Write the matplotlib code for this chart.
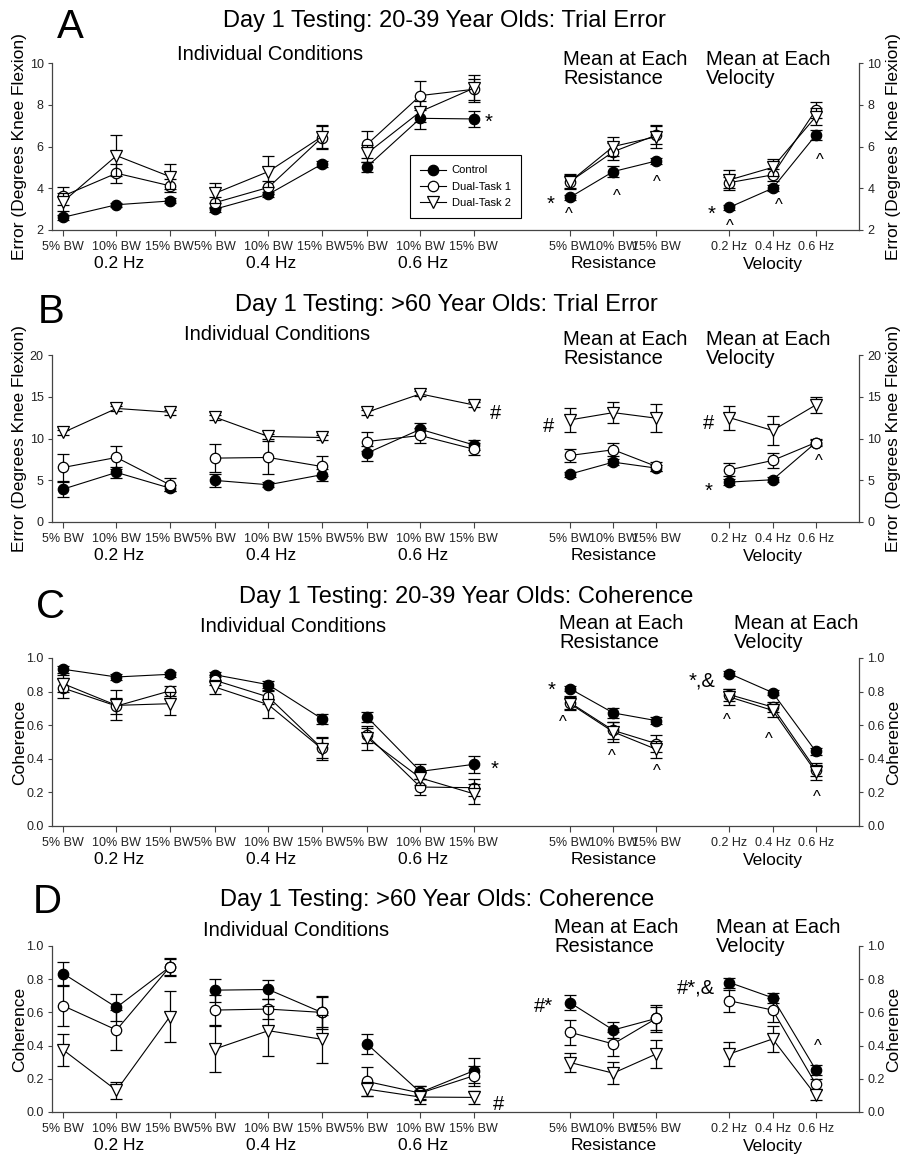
import matplotlib

matplotlib.use("Agg")
import matplotlib.pyplot as plt
from matplotlib.lines import Line2D

plt.rcParams["font.family"] = ["Liberation Sans", "DejaVu Sans"]

W, H = 903, 1157

# ---- data: 15 points per series = 0.2/0.4/0.6 Hz x (5,10,15 % BW), resistance means, velocity means
SERIES_NAMES = ["Control", "Dual-Task 1", "Dual-Task 2"]
IND_TICKS = ["5% BW", "10% BW", "15% BW"] * 3
RES_TICKS = ["5% BW", "10% BW", "15% BW"]
VEL_TICKS = ["0.2 Hz", "0.4 Hz", "0.6 Hz"]
GROUP_LABELS = ["0.2 Hz", "0.4 Hz", "0.6 Hz", "Resistance", "Velocity"]

A_CTRL = [2.61, 3.21, 3.39, 3.00, 3.71, 5.15, 5.03, 7.35, 7.32, 3.57, 4.80, 5.31, 3.09, 4.00, 6.55]
A_CTRL_ERR = [0.12, 0.10, 0.12, 0.12, 0.12, 0.15, 0.25, 0.50, 0.40, 0.12, 0.25, 0.15, 0.12, 0.15, 0.25]
A_DT1 = [3.63, 4.72, 4.12, 3.31, 4.04, 6.42, 6.10, 8.44, 8.74, 4.32, 5.75, 6.55, 4.27, 4.64, 7.75]
A_DT1_ERR = [0.45, 0.45, 0.30, 0.25, 0.30, 0.55, 0.66, 0.70, 0.50, 0.30, 0.40, 0.45, 0.25, 0.30, 0.40]
A_DT2 = [3.36, 5.56, 4.56, 3.76, 4.80, 6.47, 5.67, 7.67, 8.79, 4.32, 6.00, 6.47, 4.40, 5.00, 7.43]
A_DT2_ERR = [0.43, 0.98, 0.60, 0.48, 0.76, 0.55, 0.40, 0.50, 0.65, 0.35, 0.47, 0.55, 0.48, 0.40, 0.40]

B_CTRL = [3.94, 5.94, 4.06, 4.98, 4.46, 5.66, 8.25, 11.10, 9.24, 5.74, 7.17, 6.45, 4.78, 5.06, 9.50]
B_CTRL_ERR = [0.90, 0.65, 0.40, 0.80, 0.30, 0.70, 0.90, 0.70, 0.60, 0.30, 0.40, 0.40, 0.40, 0.30, 0.30]
B_DT1 = [6.53, 7.73, 4.46, 7.65, 7.73, 6.65, 9.64, 10.36, 8.73, 7.97, 8.65, 6.65, 6.25, 7.37, 9.52]
B_DT1_ERR = [1.60, 1.40, 0.80, 1.67, 2.00, 1.20, 1.10, 0.90, 0.76, 0.80, 0.80, 0.50, 0.80, 0.90, 0.40]
B_DT2 = [10.72, 13.60, 13.15, 12.55, 10.24, 10.12, 13.15, 15.34, 14.02, 12.23, 13.10, 12.43, 12.50, 10.96, 14.02]
B_DT2_ERR = [0.30, 0.30, 0.30, 0.30, 0.30, 0.30, 0.30, 0.30, 0.30, 1.40, 1.25, 1.70, 1.45, 1.70, 0.95]

C_CTRL = [0.933, 0.887, 0.903, 0.900, 0.841, 0.639, 0.649, 0.325, 0.367, 0.817, 0.673, 0.627, 0.907, 0.794, 0.444]
C_CTRL_ERR = [0.02, 0.015, 0.015, 0.015, 0.02, 0.03, 0.03, 0.045, 0.05, 0.015, 0.03, 0.02, 0.015, 0.015, 0.02]
C_DT1 = [0.821, 0.714, 0.804, 0.867, 0.768, 0.464, 0.540, 0.232, 0.228, 0.734, 0.569, 0.490, 0.782, 0.708, 0.335]
C_DT1_ERR = [0.06, 0.05, 0.03, 0.03, 0.04, 0.06, 0.045, 0.05, 0.05, 0.04, 0.05, 0.05, 0.035, 0.03, 0.04]
C_DT2 = [0.847, 0.718, 0.728, 0.827, 0.722, 0.460, 0.524, 0.286, 0.192, 0.728, 0.560, 0.456, 0.768, 0.688, 0.321]
C_DT2_ERR = [0.05, 0.09, 0.07, 0.04, 0.08, 0.07, 0.07, 0.04, 0.06, 0.04, 0.06, 0.05, 0.045, 0.04, 0.045]

D_CTRL = [0.834, 0.630, 0.874, 0.734, 0.738, 0.600, 0.410, 0.118, 0.248, 0.658, 0.494, 0.564, 0.780, 0.688, 0.254]
D_CTRL_ERR = [0.07, 0.08, 0.05, 0.07, 0.06, 0.10, 0.06, 0.04, 0.075, 0.045, 0.05, 0.07, 0.03, 0.03, 0.03]
D_DT1 = [0.640, 0.494, 0.874, 0.614, 0.620, 0.600, 0.184, 0.114, 0.218, 0.480, 0.410, 0.564, 0.670, 0.614, 0.168]
D_DT1_ERR = [0.12, 0.12, 0.055, 0.09, 0.06, 0.09, 0.09, 0.04, 0.06, 0.075, 0.07, 0.08, 0.067, 0.07, 0.03]
D_DT2 = [0.374, 0.130, 0.574, 0.380, 0.490, 0.438, 0.138, 0.090, 0.088, 0.298, 0.234, 0.350, 0.350, 0.440, 0.100]
D_DT2_ERR = [0.095, 0.05, 0.155, 0.14, 0.15, 0.145, 0.04, 0.04, 0.04, 0.06, 0.065, 0.085, 0.07, 0.08, 0.03]

# significance marks: (text, series index, point index, dx px, dy px)
A_MARKS = [("*", 0, 8, 15, -3), ("*", 0, 9, -20, -7), ("^", 0, 9, -1, -17), ("^", 0, 10, 4, -25),
           ("^", 0, 11, 0, -22), ("*", 0, 12, -18, -7), ("^", 0, 12, 0, -19), ("^", 0, 13, 6, -17),
           ("^", 0, 14, 4, -25)]
B_MARKS = [("#", 2, 8, 22, -9), ("#", 2, 9, -22, -7), ("#", 2, 12, -21, -6), ("*", 0, 12, -21, -9),
           ("^", 0, 14, 3, -19)]
C_MARKS = [("*", 0, 8, 21, -5), ("*", 0, 9, -19, -2), ("^", 0, 9, -7, -34), ("^", 0, 10, -1, -44),
           ("^", 0, 11, 0, -51), ("*,&", 0, 12, -27, -7), ("^", 0, 12, -3, -47), ("^", 0, 13, -4, -47),
           ("^", 0, 14, 1, -46)]
D_MARKS = [("#", 2, 8, 25, -7), ("#*", 0, 9, -27, -4), ("#*,&", 0, 12, -34, -5), ("^", 0, 14, 2, 23)]


def x_positions():
    ind = [g * 2.85 + k for g in range(3) for k in range(3)]
    res = [9.51 + 0.81 * k for k in range(3)]
    vel = [12.5 + 0.81 * k for k in range(3)]
    return ind + res + vel


X = x_positions()
XLIM = (-0.21, 14.93)
AX_LEFT, AX_RIGHT = 52, 859

STYLES = [
    dict(marker="o", mfc="black", mec="black", ms=7.5, zorder=3),
    dict(marker="o", mfc="white", mec="black", ms=7.5, zorder=4),
    dict(marker="v", mfc="white", mec="black", ms=8.5, zorder=5),
]

PANELS = [
    dict(letter="A", series=[(A_CTRL, A_CTRL_ERR), (A_DT1, A_DT1_ERR), (A_DT2, A_DT2_ERR)],
         marks=A_MARKS, top=63, bottom=230, ylim=(2, 10), yticks=[2, 4, 6, 8, 10], fmt="{:g}",
         ylabel="Error (Degrees Knee Flexion)",
         title="Day 1 Testing: 20-39 Year Olds: Trial Error", title_xy=(444, 21), letter_xy=(70, 27),
         indiv_xy=(270, 54), res_xy=(563, 69), vel_xy=(706, 69), legend=True),
    dict(letter="B", series=[(B_CTRL, B_CTRL_ERR), (B_DT1, B_DT1_ERR), (B_DT2, B_DT2_ERR)],
         marks=B_MARKS, top=355, bottom=522, ylim=(0, 20), yticks=[0, 5, 10, 15, 20], fmt="{:g}",
         ylabel="Error (Degrees Knee Flexion)",
         title="Day 1 Testing: >60 Year Olds: Trial Error", title_xy=(446, 305), letter_xy=(51, 312),
         indiv_xy=(277, 334), res_xy=(563, 349), vel_xy=(706, 349), legend=False),
    dict(letter="C", series=[(C_CTRL, C_CTRL_ERR), (C_DT1, C_DT1_ERR), (C_DT2, C_DT2_ERR)],
         marks=C_MARKS, top=658, bottom=826, ylim=(0, 1), yticks=[0, 0.2, 0.4, 0.6, 0.8, 1.0], fmt="{:.1f}",
         ylabel="Coherence",
         title="Day 1 Testing: 20-39 Year Olds: Coherence", title_xy=(466, 597), letter_xy=(51, 607),
         indiv_xy=(293, 627), res_xy=(559, 633), vel_xy=(734, 633), legend=False),
    dict(letter="D", series=[(D_CTRL, D_CTRL_ERR), (D_DT1, D_DT1_ERR), (D_DT2, D_DT2_ERR)],
         marks=D_MARKS, top=946, bottom=1112, ylim=(0, 1), yticks=[0, 0.2, 0.4, 0.6, 0.8, 1.0], fmt="{:.1f}",
         ylabel="Coherence",
         title="Day 1 Testing: >60 Year Olds: Coherence", title_xy=(437, 900), letter_xy=(47, 902),
         indiv_xy=(296, 931), res_xy=(554, 937), vel_xy=(716, 937), legend=False),
]

SEGMENTS = [slice(0, 3), slice(3, 6), slice(6, 9), slice(9, 12), slice(12, 15)]
SPINE = "#444444"


def fx(px):
    return px / W


def fy(py):
    return 1 - py / H


fig = plt.figure(figsize=(W / 100, H / 100), dpi=100)

for p in PANELS:
    ax = fig.add_axes([fx(AX_LEFT), fy(p["bottom"]), (AX_RIGHT - AX_LEFT) / W, (p["bottom"] - p["top"]) / H])
    ax.set_xlim(*XLIM)
    ax.set_ylim(*p["ylim"])

    for (vals, errs), st in zip(p["series"], STYLES):
        for seg in SEGMENTS:
            ax.errorbar(X[seg], vals[seg], yerr=errs[seg], color="black", lw=0.8,
                        marker=st["marker"], mfc=st["mfc"], mec=st["mec"], ms=st["ms"], mew=0.9,
                        ecolor="black", elinewidth=0.9, capsize=4.5, capthick=0.9, zorder=st["zorder"])

    # ticks and spines
    ax.spines["top"].set_visible(False)
    for side in ("left", "right", "bottom"):
        ax.spines[side].set_color(SPINE)
        ax.spines[side].set_linewidth(0.9)
    ax.set_xticks(X)
    ax.set_xticklabels(IND_TICKS + RES_TICKS + VEL_TICKS, fontsize=9)
    ax.set_yticks(p["yticks"])
    ax.set_yticklabels([p["fmt"].format(v) for v in p["yticks"]], fontsize=9)
    ax.tick_params(axis="y", direction="out", length=3, width=0.8, color=SPINE, pad=3,
                   left=True, right=True, labelleft=True, labelright=True, labelcolor="#222222")
    ax.tick_params(axis="x", direction="out", length=4, width=0.8, color=SPINE, pad=4, labelcolor="#222222")

    # group labels under the tick labels
    for i, lab in enumerate(GROUP_LABELS):
        mid = X[SEGMENTS[i]][1]
        ax.annotate(lab, xy=(mid, 0), xycoords=("data", "axes fraction"), xytext=(3 if i < 3 else 0, -34),
                    textcoords="offset pixels", ha="center", va="center", fontsize=12.5)

    # significance marks
    for text, si, idx, dx, dy in p["marks"]:
        ax.annotate(text, xy=(X[idx], p["series"][si][0][idx]), xytext=(dx, dy), textcoords="offset pixels",
                    ha="center", va="center", fontsize=12 if text == "^" else 14.5, zorder=6)

    mid_y = (p["top"] + p["bottom"]) / 2
    fig.text(fx(20), fy(mid_y), p["ylabel"], rotation=90, ha="center", va="center", fontsize=12.5)
    fig.text(fx(894), fy(mid_y), p["ylabel"], rotation=90, ha="center", va="center", fontsize=12.5)

    fig.text(fx(p["letter_xy"][0]), fy(p["letter_xy"][1]), p["letter"], ha="center", va="center", fontsize=29)
    fig.text(fx(p["title_xy"][0]), fy(p["title_xy"][1]), p["title"], ha="center", va="center", fontsize=17)
    fig.text(fx(p["indiv_xy"][0]), fy(p["indiv_xy"][1]), "Individual Conditions", ha="center", va="center",
             fontsize=14.5)
    fig.text(fx(p["res_xy"][0]), fy(p["res_xy"][1]), "Mean at Each\nResistance", ha="left", va="center",
             fontsize=14.5, linespacing=1.05)
    fig.text(fx(p["vel_xy"][0]), fy(p["vel_xy"][1]), "Mean at Each\nVelocity", ha="left", va="center",
             fontsize=14.5, linespacing=1.05)

    if p["legend"]:
        handles = [Line2D([], [], color="black", lw=0.8, marker=st["marker"], mfc=st["mfc"], mec=st["mec"],
                          ms=st["ms"], mew=0.9) for st in STYLES]
        leg = ax.legend(handles, SERIES_NAMES, loc="center", bbox_to_anchor=(0.512, 0.26), fontsize=8,
                        frameon=True, fancybox=False, framealpha=1, edgecolor="black", handlelength=2.4,
                        labelspacing=0.55, borderpad=0.9, handletextpad=0.5)
        leg.get_frame().set_linewidth(0.8)

fig.savefig("out.png", dpi=100)
